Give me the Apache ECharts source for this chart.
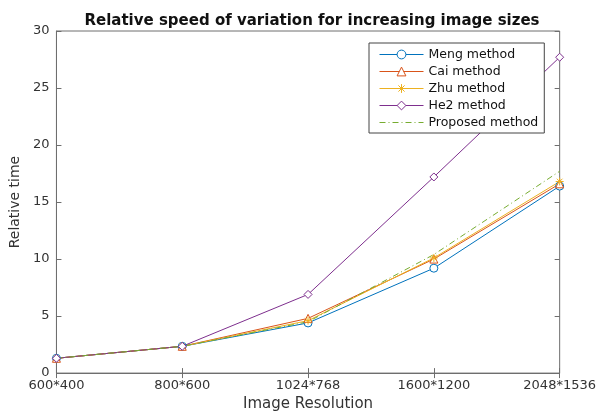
<!DOCTYPE html>
<html><head><meta charset="utf-8">
<script src="https://cdn.jsdelivr.net/npm/echarts@6/dist/echarts.min.js"></script>
<style>html,body{margin:0;padding:0;background:#fff}#c{width:599px;height:417px}</style>
</head><body><div id="c"></div>
<script>
const categories = ['600*400','800*600','1024*768','1600*1200','2048*1536'];
const meng = [1.3, 2.35, 4.4, 9.2, 16.4];
const cai = [1.3, 2.35, 4.8, 10.0, 16.6];
const zhu = [1.3, 2.35, 4.6, 10.1, 16.8];
const he2 = [1.3, 2.35, 6.9, 17.2, 27.7];
const proposed = [1.3, 2.35, 4.5, 10.4, 17.7];
const yTicks = [0, 5, 10, 15, 20, 25, 30];

const font = '"DejaVu Sans", "Liberation Sans", Arial, sans-serif';
const axisColor = '#6e6e6e';
const star = 'path://M10,0L10,20M0,10L20,10M3,3L17,17M3,17L17,3';

function mk(name, data, color, symbol, dashed) {
  return {
    name, type: 'line', data,
    symbol: symbol || 'none', symbolSize: 8,
    showSymbol: !!symbol,
    lineStyle: { color, width: 1, type: dashed ? [6, 3, 1, 3] : 'solid' },
    itemStyle: { color: (symbol === star || !symbol) ? color : '#fff', borderColor: color, borderWidth: 1 },
    emphasis: { disabled: true },
    z: 3
  };
}

const chart = echarts.init(document.getElementById('c'), null, { renderer: 'canvas' });
chart.setOption({
  animation: false,
  backgroundColor: '#fff',
  title: {
    text: 'Relative speed of variation for increasing image sizes',
    left: 307, textAlign: 'center', top: 9,
    textStyle: { fontFamily: font, fontSize: 15, fontWeight: 'bold', color: '#111' }
  },
  grid: { left: 55, right: 38, top: 31, bottom: 43, show: true, borderColor: axisColor, borderWidth: 1, backgroundColor: 'transparent' },
  legend: {
    orient: 'vertical', left: 369, top: 43,
    backgroundColor: '#fff', borderColor: '#444', borderWidth: 1,
    padding: [5, 6, 4, 10], itemGap: 4, itemWidth: 44, itemHeight: 11,
    textStyle: { fontFamily: font, fontSize: 12.5, color: '#111' },
    lineStyle: { width: 1 },
    itemStyle: { borderWidth: 1 },
    data: ['Meng method', 'Cai method', 'Zhu method', 'He2 method',
      { name: 'Proposed method', itemStyle: { opacity: 0 } }]
  },
  xAxis: [{
    type: 'category', data: categories, boundaryGap: false,
    name: 'Image Resolution', nameLocation: 'middle', nameGap: 23,
    nameTextStyle: { fontFamily: font, fontSize: 15, color: '#333' },
    axisLine: { lineStyle: { color: axisColor } },
    axisTick: { inside: true, length: 5, lineStyle: { color: axisColor } },
    axisLabel: { fontFamily: font, fontSize: 13, color: '#333', margin: 6 },
    splitLine: { show: false }
  }, {
    type: 'category', data: categories, boundaryGap: false, position: 'top',
    axisLine: { show: false }, axisLabel: { show: false },
    axisTick: { inside: true, length: 5, lineStyle: { color: axisColor } }
  }],
  yAxis: [{
    type: 'value', min: 0, max: 30, interval: 5,
    name: 'Relative time', nameLocation: 'middle', nameGap: 31,
    nameTextStyle: { fontFamily: font, fontSize: 14, color: '#333' },
    axisLine: { show: true, lineStyle: { color: axisColor } },
    axisTick: { show: true, inside: true, length: 5, lineStyle: { color: axisColor } },
    axisLabel: { fontFamily: font, fontSize: 13, color: '#333', margin: 7,
      formatter: v => yTicks.includes(v) ? String(v) : '' },
    splitLine: { show: false }
  }, {
    type: 'value', min: 0, max: 30, interval: 5, position: 'right',
    axisLine: { show: false }, axisLabel: { show: false },
    axisTick: { show: true, inside: true, length: 5, lineStyle: { color: axisColor } },
    splitLine: { show: false }
  }],
  series: [
    mk('Meng method', meng, '#0072BD', 'circle'),
    mk('Cai method', cai, '#D95319', 'triangle'),
    mk('Zhu method', zhu, '#EDB120', star),
    mk('He2 method', he2, '#7E2F8E', 'diamond'),
    mk('Proposed method', proposed, '#77AC30', null, true)
  ]
});
</script></body></html>
